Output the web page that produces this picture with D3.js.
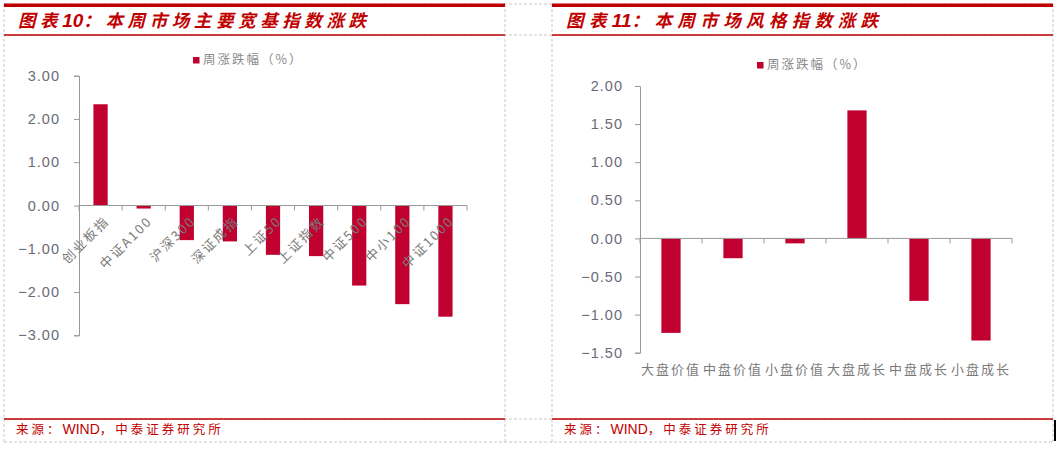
<!DOCTYPE html>
<html>
<head>
<meta charset="utf-8">
<script src="https://cdn.jsdelivr.net/npm/d3@7"></script>
<style>
  body { margin: 0; background: #fff; }
  svg { display: block; }
  .tick text { font-family: Arial, "Liberation Sans", sans-serif; }
</style>
</head>
<body>
<div id="container"></div>
<script>
const broadNames = ["创业板指", "中证A100", "沪深300", "深证成指", "上证50", "上证指数", "中证500", "中小100", "中证1000"];
const broadValues = [2.34, -0.07, -0.80, -0.83, -1.14, -1.17, -1.85, -2.28, -2.57];
const broadTicks = [3, 2, 1, 0, -1, -2, -3];

const styleNames = ["大盘价值", "中盘价值", "小盘价值", "大盘成长", "中盘成长", "小盘成长"];
const styleValues = [-1.24, -0.26, -0.065, 1.68, -0.82, -1.34];
const styleTicks = [2, 1.5, 1, 0.5, 0, -0.5, -1, -1.5];

const titles = ["图表10：本周市场主要宽基指数涨跌", "图表11：本周市场风格指数涨跌"];
const legendText = "周涨跌幅（%）";
const sourceText = "来源：WIND，中泰证券研究所";

const W = 1061, H = 450;
const red = "#C00000", barColor = "#C0002F", grid = "#c8c8c8";
const cjk = "'Noto Sans CJK SC', sans-serif";

const svg = d3.select('#container').append('svg')
    .attr('width', W)
    .attr('height', H);

// split text into ascii / cjk runs so only cjk glyphs get spread out
function spacedText(sel, str, spacing, asciiSize) {
    const runs = str.match(/[\x20-\x7e]+|[^\x20-\x7e]+/g);
    runs.forEach(r => {
        const t = sel.append('tspan').text(r);
        if (/^[\x20-\x7e]+$/.test(r)) {
            t.style('font-family', 'Arial, "Liberation Sans", sans-serif').style('letter-spacing', '0px');
            if (asciiSize) t.style('font-size', asciiSize);
        } else {
            t.style('letter-spacing', spacing);
        }
    });
}

// table frame (dashed cells)
const cols = [4, 505, 552, 1053];
const rows = [4, 35, 419, 442];
rows.forEach(y => {
    svg.append('line').attr('x1', cols[0]).attr('x2', cols[3]).attr('y1', y).attr('y2', y)
        .attr('stroke', grid).attr('stroke-dasharray', '3,2');
});
cols.forEach(x => {
    svg.append('line').attr('x1', x).attr('x2', x).attr('y1', rows[0]).attr('y2', rows[3])
        .attr('stroke', grid).attr('stroke-dasharray', '3,2');
});

// red rules + titles + sources for each panel
const titleSpacing = ['4.6px', '5.4px'];
[[cols[0], cols[1]], [cols[2], cols[3]]].forEach((c, i) => {
    svg.append('rect').attr('x', c[0]).attr('y', 3.5).attr('width', c[1] - c[0]).attr('height', 3.5).attr('fill', red);
    svg.append('line').attr('x1', c[0]).attr('x2', c[1]).attr('y1', 35).attr('y2', 35).attr('stroke', red).attr('stroke-width', 1.3);
    svg.append('line').attr('x1', c[0]).attr('x2', c[1]).attr('y1', 419).attr('y2', 419).attr('stroke', red).attr('stroke-width', 1.3);
    const t = svg.append('text')
        .attr('x', c[0] + 14).attr('y', 27)
        .attr('fill', red)
        .style('font-family', cjk)
        .style('font-size', '17.5px')
        .style('font-weight', 'bold')
        .style('font-style', 'italic');
    spacedText(t, titles[i], titleSpacing[i], '19px');
    const s = svg.append('text')
        .attr('x', c[0] + 12).attr('y', 434)
        .attr('fill', red)
        .style('font-family', cjk)
        .style('font-size', '12.5px');
    spacedText(s, sourceText, '3px', '14px');
});
// small black mark at bottom right
svg.append('rect').attr('x', 1054).attr('y', 420).attr('width', 2).attr('height', 21).attr('fill', '#000');

function drawChart(opt) {
    const yScale = d3.scaleLinear().domain(opt.domain).range([opt.y0, opt.y1]);
    const xScale = d3.scaleBand().domain(opt.names).range([opt.x0, opt.x1]).paddingInner(opt.pad).paddingOuter(opt.pad / 2);
    const bands = d3.scaleBand().domain(opt.names).range([opt.x0, opt.x1]);

    const yAxis = svg.append('g')
        .attr('transform', `translate(${opt.x0},0)`)
        .call(d3.axisLeft(yScale).tickValues(opt.ticks).tickFormat(d3.format('.2f')).tickSize(5).tickPadding(opt.tickPad));
    yAxis.select('.domain').attr('stroke', '#999');
    yAxis.selectAll('.tick line').attr('stroke', '#999');
    yAxis.selectAll('.tick text')
        .attr('fill', '#6b6b78')
        .style('font-size', '14.5px')
        .style('letter-spacing', '1px')
        .text(d => d3.format('.2f')(d).replace('-', '−'));

    // bars
    svg.append('g').selectAll('rect')
        .data(opt.values)
        .enter()
        .append('rect')
        .attr('x', (d, i) => xScale(opt.names[i]))
        .attr('y', d => yScale(Math.max(0, d)))
        .attr('width', xScale.bandwidth())
        .attr('height', d => Math.abs(yScale(d) - yScale(0)))
        .attr('fill', barColor);

    // x axis at zero
    const zy = yScale(0);
    const xAxis = svg.append('g')
        .attr('transform', `translate(0,${zy})`)
        .call(d3.axisBottom(bands).tickSize(0).tickFormat(''));
    xAxis.select('.domain').attr('stroke', '#999').attr('d', `M${opt.x0},0H${opt.x1}`);
    const bounds = opt.names.map(n => bands(n) + bands.bandwidth()).concat([opt.x0]);
    xAxis.selectAll('.bound').data(bounds).enter().append('line')
        .attr('x1', d => d).attr('x2', d => d).attr('y1', 0).attr('y2', 5)
        .attr('stroke', '#999');

    // category labels
    const lab = svg.append('g').selectAll('text')
        .data(opt.names)
        .enter()
        .append('text')
        .attr('fill', '#7a7a7a')
        .style('font-family', cjk)
        .style('font-size', '13px')
        .text(d => d);
    if (opt.rotate) {
        lab.attr('text-anchor', 'end')
            .attr('transform', d => `translate(${bands(d) + bands.bandwidth() / 2 + 3},${zy + 10}) rotate(-45)`)
            .attr('dy', '0.7em')
            .style('letter-spacing', '2px');
    } else {
        lab.attr('text-anchor', 'middle')
            .attr('x', d => bands(d) + bands.bandwidth() / 2)
            .attr('y', opt.labelY)
            .style('letter-spacing', '2px');
    }

    // legend
    svg.append('rect').attr('x', opt.legX).attr('y', opt.legY - 6).attr('width', 6.5).attr('height', 6.5).attr('fill', barColor);
    svg.append('text')
        .attr('x', opt.legX + 10).attr('y', opt.legY + 0.5)
        .attr('fill', '#8a8a8a')
        .style('font-family', cjk)
        .style('font-size', '12.5px')
        .style('letter-spacing', '2px')
        .text(legendText);
}

drawChart({
    names: broadNames, values: broadValues, ticks: broadTicks,
    domain: [3, -3], y0: 75.7, y1: 335.3,
    x0: 79, x1: 467, pad: 0.67, rotate: true, tickPad: 14,
    legX: 193, legY: 63
});

drawChart({
    names: styleNames, values: styleValues, ticks: styleTicks,
    domain: [2, -1.5], y0: 86, y1: 352.7,
    x0: 640, x1: 1012, pad: 0.69, rotate: false, labelY: 374, tickPad: 12,
    legX: 757, legY: 68
});
</script>
</body>
</html>
